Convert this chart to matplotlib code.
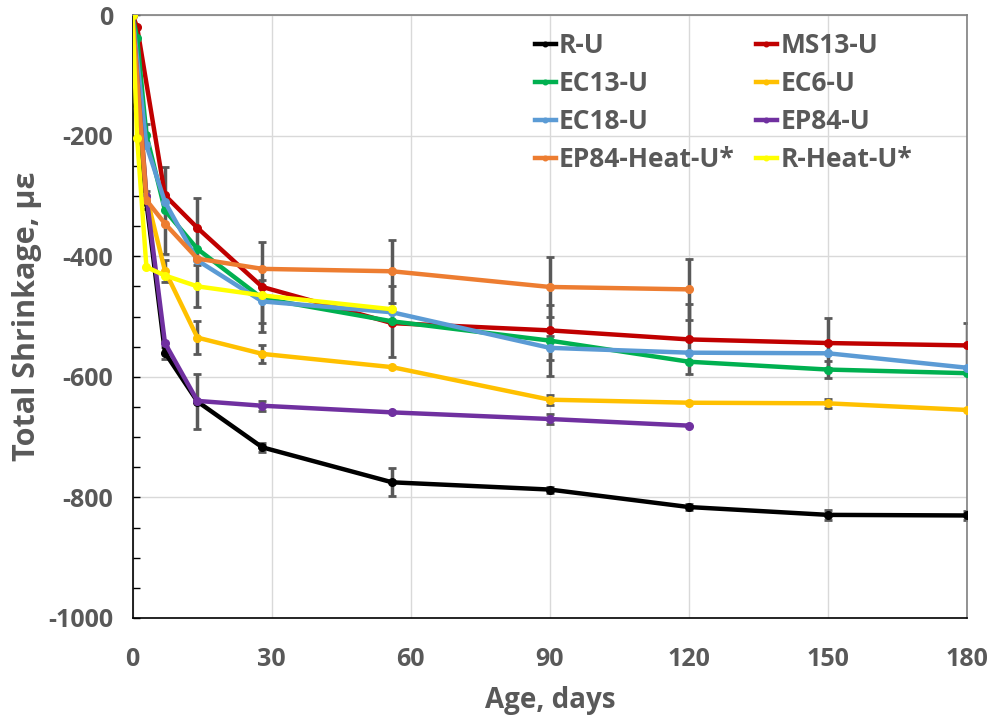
import numpy as np
import matplotlib
matplotlib.use("Agg")
import matplotlib.pyplot as plt
from matplotlib.ticker import MultipleLocator

plt.rcParams['font.family'] = ['Open Sans', 'DejaVu Sans']
plt.rcParams['font.weight'] = 'bold'
plt.rcParams['axes.unicode_minus'] = False

# ages (days) and readings per series
r_u_days = [0, 1, 3, 7, 14, 28, 56, 90, 120, 150, 180]
r_u = [0, -150, -310, -560, -641, -717, -775, -787, -816, -829, -830]
r_u_err = [0, 0, 0, 10, 45, 8, 23, 5, 5, 8, 8]

ms13_u_days = [0, 1, 7, 14, 28, 56, 90, 120, 150, 180]
ms13_u = [0, -20, -299, -353, -451, -511, -523, -538, -544, -548]
ms13_u_err = [0, 0, 0, 50, 75, 0, 0, 58, 41, 38]

ec13_u_days = [0, 1, 3, 7, 14, 28, 56, 90, 120, 150, 180]
ec13_u = [0, -38, -199, -324, -388, -470, -508, -540, -575, -588, -594]
ec13_u_err = [0, 0, 18, 72, 0, 0, 59, 59, 0, 14, 0]

ec6_u_days = [0, 3, 7, 14, 28, 56, 90, 120, 150, 180]
ec6_u = [0, -300, -424, -535, -562, -584, -638, -643, -644, -655]
ec6_u_err = [0, 0, 18, 28, 15, 0, 8, 0, 8, 0]

ec18_u_days = [0, 3, 7, 14, 28, 56, 90, 120, 150, 180]
ec18_u = [0, -216, -310, -407, -475, -493, -552, -560, -561, -585]
ec18_u_err = [0, 0, 0, 0, 35, 0, 20, 0, 0, 0]

ep84_u_days = [0, 3, 7, 14, 28, 56, 90, 120]
ep84_u = [0, -300, -544, -640, -648, -659, -670, -681]
ep84_u_err = [0, 0, 0, 0, 8, 0, 8, 0]

ep84_heat_u_days = [0, 3, 7, 14, 28, 56, 90, 120]
ep84_heat_u = [0, -307, -346, -404, -421, -425, -451, -455]
ep84_heat_u_err = [0, 15, 0, 0, 0, 52, 50, 50]

r_heat_u_days = [0, 1, 3, 7, 14, 28, 56]
r_heat_u = [0, -204, -418, -432, -450, -465, -488]
r_heat_u_err = [0, 0, 0, 0, 35, 0, 0]

series = [
    ("R-U", r_u_days, r_u, r_u_err, "#000000"),
    ("MS13-U", ms13_u_days, ms13_u, ms13_u_err, "#C00000"),
    ("EC13-U", ec13_u_days, ec13_u, ec13_u_err, "#00B050"),
    ("EC6-U", ec6_u_days, ec6_u, ec6_u_err, "#FFC000"),
    ("EC18-U", ec18_u_days, ec18_u, ec18_u_err, "#5B9BD5"),
    ("EP84-U", ep84_u_days, ep84_u, ep84_u_err, "#7030A0"),
    ("EP84-Heat-U*", ep84_heat_u_days, ep84_heat_u, ep84_heat_u_err, "#ED7D31"),
    ("R-Heat-U*", r_heat_u_days, r_heat_u, r_heat_u_err, "#FFFF00"),
]

gray = "#595959"

fig = plt.figure(figsize=(9.97, 7.19), dpi=100)
ax = fig.add_axes([0.1329, 0.1405, 0.8371, 0.8386])

handles = []
for i, (name, d, vals, err, col) in enumerate(series):
    x = np.array(d)
    y = np.array(vals)
    e = np.array(err)
    m = e > 0
    if m.any():
        ax.errorbar(x[m], y[m], yerr=e[m], fmt='none', ecolor=gray,
                    elinewidth=2.5, capsize=3, capthick=2, zorder=2)
    h, = ax.plot(x, y, '-o', color=col, lw=3.2, ms=5.5, label=name, zorder=3 + i)
    handles.append(h)

ax.set_xlim(0, 180)
ax.set_ylim(-1000, 0)
ax.xaxis.set_major_locator(MultipleLocator(30))
ax.yaxis.set_major_locator(MultipleLocator(200))
ax.yaxis.set_minor_locator(MultipleLocator(50))
ax.grid(True, which='major', color='#D9D9D9', lw=1, zorder=0)
ax.set_axisbelow(True)

for s in ['left', 'bottom']:
    ax.spines[s].set_color('#000000')
    ax.spines[s].set_linewidth(1.2)
for s in ['top', 'right']:
    ax.spines[s].set_color('#808080')
    ax.spines[s].set_linewidth(1.2)

ax.tick_params(axis='x', length=0, pad=21, labelsize=18, labelcolor=gray)
ax.tick_params(axis='y', which='major', direction='in', length=5, width=1,
               pad=14, labelsize=18, labelcolor=gray)
ax.tick_params(axis='y', which='minor', direction='in', length=5, width=1)

ax.set_xlabel("Age, days", fontsize=20, fontweight='bold', color=gray, labelpad=10)
ax.set_ylabel("Total Shrinkage, με", fontsize=22, fontweight='bold', color=gray, labelpad=4)

# Excel fills legend row by row
order = [0, 2, 4, 6, 1, 3, 5, 7]
leg = ax.legend([handles[k] for k in order], [series[k][0] for k in order],
                ncol=2, frameon=False, loc='upper left',
                bbox_to_anchor=(0.482, 0.972), borderaxespad=0, borderpad=0,
                handlelength=0.8, handletextpad=0.12, columnspacing=0.8,
                labelspacing=0.42, markerscale=0.6,
                prop={'weight': 'bold', 'size': 19})
for t in leg.get_texts():
    t.set_color(gray)

fig.savefig("out.png", dpi=100)
